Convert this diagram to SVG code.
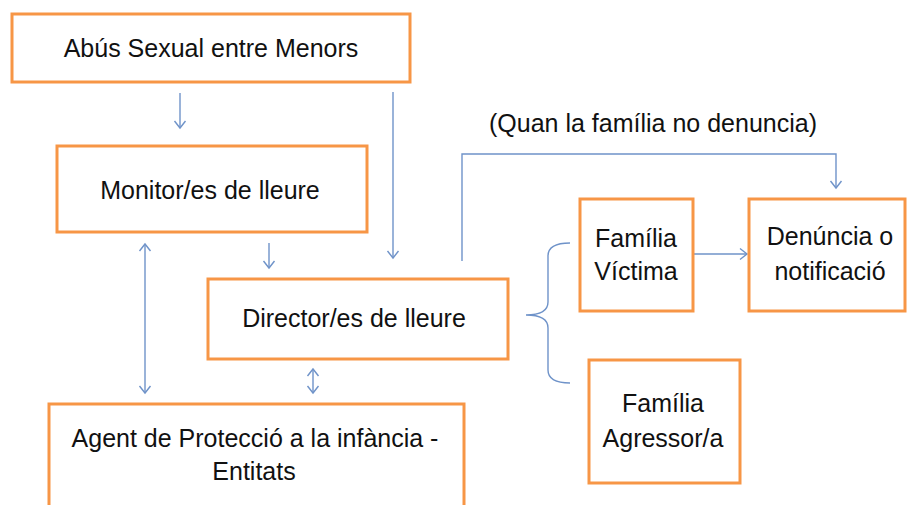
<svg xmlns="http://www.w3.org/2000/svg" width="908" height="505" viewBox="0 0 908 505">
<style>
.box{fill:#fff;stroke:#f79646;stroke-width:3}
.t{font-family:"Liberation Sans",Arial,sans-serif;font-size:25px;fill:#111;text-anchor:middle}
.c{fill:none;stroke:#6f93c9;stroke-width:1.4}
</style>
<defs>
<marker id="ah" markerUnits="userSpaceOnUse" markerWidth="12" markerHeight="14" refX="8" refY="6" orient="auto-start-reverse" overflow="visible">
<path d="M1,0.5 L8,6 L1,11.5" fill="none" stroke="#6f93c9" stroke-width="1.4"/>
</marker>
</defs>
<rect width="908" height="505" fill="#fff"/>
<g id="connectors">
<line class="c" x1="180" y1="93" x2="180" y2="128" marker-end="url(#ah)"/>
<line class="c" x1="269" y1="243" x2="269" y2="268" marker-end="url(#ah)"/>
<line class="c" x1="393" y1="92" x2="393" y2="258" marker-end="url(#ah)"/>
<line class="c" x1="145" y1="244" x2="145" y2="393" marker-start="url(#ah)" marker-end="url(#ah)"/>
<line class="c" x1="313" y1="369" x2="313" y2="393" marker-start="url(#ah)" marker-end="url(#ah)"/>
<path class="c" d="M462,261 V154 H836 V188" marker-end="url(#ah)"/>
<line class="c" x1="694" y1="254" x2="747" y2="254" marker-end="url(#ah)"/>
<path class="c" d="M570,243 Q548,243 548,256 V302 Q548,315 526,315 Q548,315 548,328 V370 Q548,383 570,383"/>
</g>
<g id="n-abus"><rect class="box" x="12" y="14" width="398" height="68"/><text class="t" x="211" y="57">Abús Sexual entre Menors</text></g>
<g id="n-monitor"><rect class="box" x="57" y="146" width="310" height="86"/><text class="t" x="210" y="199">Monitor/es de lleure</text></g>
<g id="n-director"><rect class="box" x="208" y="279" width="300" height="80"/><text class="t" x="354" y="327">Director/es de lleure</text></g>
<g id="n-agent"><rect class="box" x="49" y="404" width="415" height="110"/><text class="t" x="255" y="447">Agent de Protecció a la infància -</text><text class="t" x="254" y="480">Entitats</text></g>
<g id="n-label"><text class="t" x="653" y="132">(Quan la família no denuncia)</text></g>
<g id="n-victima"><rect class="box" x="580" y="199" width="113" height="112"/><text class="t" x="636" y="247">Família</text><text class="t" x="636" y="280">Víctima</text></g>
<g id="n-denuncia"><rect class="box" x="749" y="199" width="156" height="112"/><text class="t" x="830" y="245">Denúncia o</text><text class="t" x="830" y="280">notificació</text></g>
<g id="n-agressor"><rect class="box" x="589" y="360" width="151" height="123"/><text class="t" x="663" y="412">Família</text><text class="t" x="663" y="447">Agressor/a</text></g>
</svg>
